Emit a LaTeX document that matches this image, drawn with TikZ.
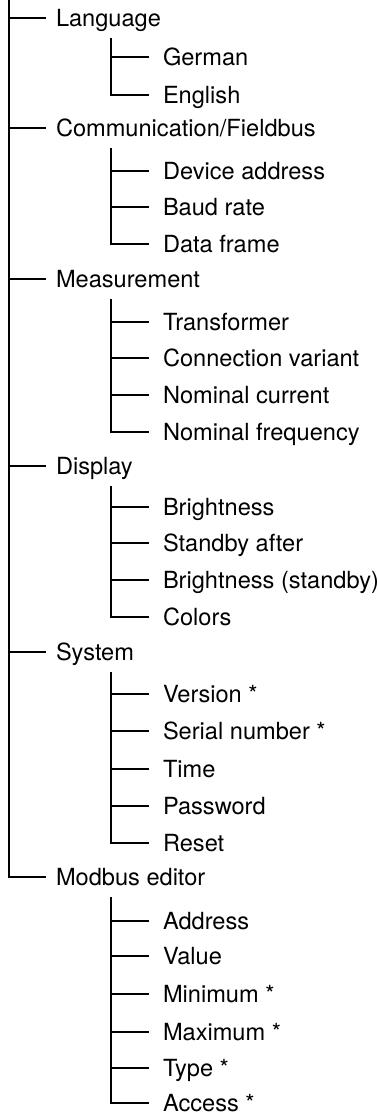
\documentclass[tikz,border=0pt]{standalone}
\usepackage{fontspec}
\setmainfont{TeX Gyre Heros}
\usetikzlibrary{calc}

\begin{document}
\begin{tikzpicture}[x=0.5pt, y=-0.5pt, line width=1.4pt,
        item/.style={anchor=west, inner ysep=0pt, text height=8.5pt, text depth=0pt, font=\fontsize{11.8}{14}\selectfont},
        topitem/.style={item, inner xsep=4.3pt},
        subitem/.style={item, inner xsep=6.3pt}]
        \useasboundingbox (0,0) rectangle (378,1113);

        % first level
        \coordinate (root) at (9,0);
        \node[topitem] (lang) at (46,18) {Language};
        \node[topitem] (comm) at (46,128) {Communication/Fieldbus};
        \node[topitem] (meas) at (46,279) {Measurement};
        \node[topitem] (disp) at (46,466) {Display};
        \node[topitem] (sys) at (46,652) {System};
        \node[topitem] (modbus) at (46,877) {Modbus editor};

        % second level
        \node[subitem] (german) at (149,57) {German};
        \node[subitem] (english) at (149,95) {English};

        \node[subitem] (devaddr) at (149,171) {Device address};
        \node[subitem] (baud) at (149,207) {Baud rate};
        \node[subitem] (frame) at (149,244) {Data frame};

        \node[subitem] (trafo) at (149,322) {Transformer};
        \node[subitem] (variant) at (149,358) {Connection variant};
        \node[subitem] (nomcur) at (149,395) {Nominal current};
        \node[subitem] (nomfreq) at (149,432) {Nominal frequency};

        \node[subitem] (bright) at (149,507) {Brightness};
        \node[subitem] (standby) at (149,543) {Standby after};
        \node[subitem] (brightsb) at (149,580) {Brightness (standby)};
        \node[subitem] (colors) at (149,617) {Colors};

        \node[subitem] (version) at (149,694) {Version *};
        \node[subitem] (serial) at (149,731) {Serial number *};
        \node[subitem] (time) at (149,769) {Time};
        \node[subitem] (passwd) at (149,806) {Password};
        \node[subitem] (reset) at (149,843) {Reset};

        \node[subitem] (addr) at (149,921) {Address};
        \node[subitem] (value) at (149,956) {Value};
        \node[subitem] (min) at (149,994) {Minimum *};
        \node[subitem] (max) at (149,1032) {Maximum *};
        \node[subitem] (type) at (149,1068) {Type *};
        \node[subitem] (access) at (149,1103) {Access *};

        % tree lines
        \draw (root) |- (modbus.west);
        \foreach \n in {lang,comm,meas,disp,sys}
            \draw (root |- \n.west) -- (\n.west);

        \foreach \p/\last/\others in {lang/english/{german},
                comm/frame/{devaddr,baud},
                meas/nomfreq/{trafo,variant,nomcur},
                disp/colors/{bright,standby,brightsb},
                sys/reset/{version,serial,time,passwd},
                modbus/access/{addr,value,min,max,type}} {
            \coordinate (\p top) at ($(\p.west)+(65,20)$);
            \draw (\p top) |- (\last.west);
            \foreach \c in \others
                \draw (\p top |- \c.west) -- (\c.west);
        }
\end{tikzpicture}
\end{document}
